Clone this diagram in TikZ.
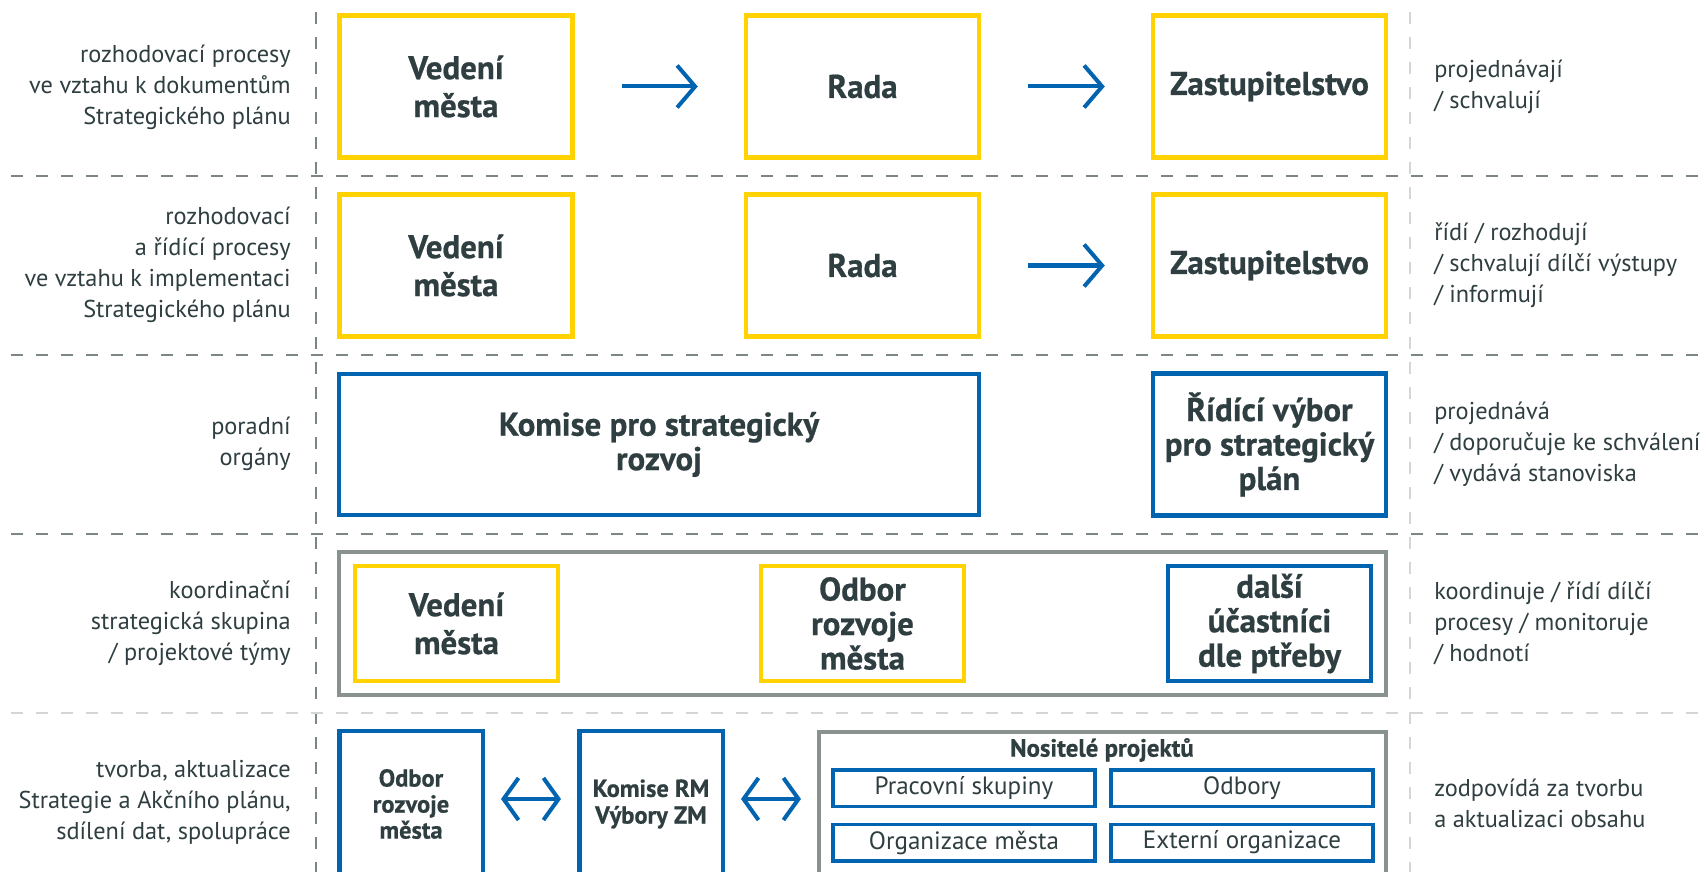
\documentclass[tikz,border=0pt]{standalone}
\usepackage{fontspec}
\setmainfont{PT Sans}[BoldFeatures={FakeBold=0.6}]
\usetikzlibrary{arrows.meta}

\definecolor{ylw}{RGB}{255,210,0}
\definecolor{blu}{RGB}{0,100,176}
\definecolor{gry}{RGB}{138,146,144}
\definecolor{txt}{RGB}{47,62,64}
\definecolor{dgr}{RGB}{125,134,134}
\definecolor{lgr}{RGB}{212,214,214}

\newlength\pxu
\setlength\pxu{0.025cm}

\begin{document}
\begin{tikzpicture}[x=1\pxu, y=-1\pxu,
	lbl/.style={text=txt, font=\fontsize{17.3}{22}\selectfont, inner sep=0pt},
	lleft/.style={lbl, align=right, anchor=east},
	lright/.style={lbl, align=left, anchor=west},
	ybox/.style={draw=ylw, line width=4.5\pxu, text=txt, align=center, inner sep=0pt,
		font=\bfseries\fontsize{23.4}{24.5}\selectfont},
	bluebox/.style={ybox, draw=blu},
	big/.style={minimum width=233\pxu, minimum height=142\pxu},
	mid/.style={minimum width=203\pxu, minimum height=115\pxu},
	graybox/.style={draw=gry, line width=4\pxu},
	smallbox/.style={draw=blu, line width=3.5\pxu, text=txt, inner sep=0pt,
		minimum width=262\pxu, minimum height=36.5\pxu, font=\fontsize{17.8}{20}\selectfont},
	sep/.style={line width=2\pxu, dash pattern=on 12\pxu off 13\pxu},
	arr/.style={draw=blu, line width=2.85pt, -{Straight Barb[length=12.8pt, width=29.9pt]},
		shorten <=33.4pt, shorten >=32.7pt},
	darr/.style={draw=blu, line width=2.85pt,
		{Straight Barb[length=10.7pt, width=29.9pt]}-{Straight Barb[length=10.7pt, width=29.9pt]},
		shorten <=11.4pt, shorten >=11.4pt}
]

	% frame
	\clip (0,0) rectangle (1706,872);
	\fill[white] (0,0) rectangle (1706,872);

	% separators
	\draw[sep, dgr] (316,12)--(316,872);
	\draw[sep, lgr] (1410,12)--(1410,872);
	\foreach \yy in {176,355,534} {
		\draw[sep, dgr] (11,\yy)--(1706,\yy);
	}
	\draw[sep, lgr] (11,713)--(1706,713);

	% row 1
	\node[ybox, big, font=\bfseries\fontsize{23.4}{27}\selectfont] (vm1) at (456,86.5) {Vedení\\města};
	\node[ybox, big] (rada1) at (862.5,86.5) {Rada};
	\node[ybox, big] (zast1) at (1269.5,86.5) {Zastupitelstvo};
	\draw[arr] (vm1)--(rada1);
	\draw[arr] (rada1)--(zast1);

	% row 2
	\node[ybox, big, font=\bfseries\fontsize{23.4}{27}\selectfont] (vm2) at (456,265.5) {Vedení\\města};
	\node[ybox, big] (rada2) at (862.5,265.5) {Rada};
	\node[ybox, big] (zast2) at (1269.5,265.5) {Zastupitelstvo};
	\draw[arr] (rada2)--(zast2);

	% row 3
	\node[bluebox, minimum width=640\pxu, minimum height=141\pxu] (komise) at (659,444.5) {Komise pro strategický\\rozvoj};
	\node[bluebox, big] (ridici) at (1269.5,444.5) {Řídící výbor\\pro strategický\\plán};

	% row 4
	\node[graybox, minimum width=1047\pxu, minimum height=143\pxu] (skupina) at (862.5,623.5) {};
	\node[ybox, mid, font=\bfseries\fontsize{23.4}{27}\selectfont] (vm4) at (456.5,623.5) {Vedení\\města};
	\node[ybox, mid] (odbor4) at (862.5,623.5) {Odbor\\rozvoje\\města};
	\node[bluebox, mid] (dalsi) at (1269.5,623.5) {další\\účastníci\\dle ptřeby};

	% row 5
	\node[bluebox, minimum width=143.5\pxu, minimum height=146\pxu,
		font=\bfseries\fontsize{17.4}{18.5}\selectfont] (odbor5) at (411,804) {Odbor\\rozvoje\\města};
	\node[bluebox, minimum width=143.5\pxu, minimum height=146\pxu,
		font=\bfseries\fontsize{17.4}{19}\selectfont] (komise5) at (651,804) {Komise RM\\Výbory ZM};
	\node[graybox, minimum width=567\pxu, minimum height=144\pxu] (nositele) at (1102.5,804) {};
	\node[text=txt, font=\bfseries\fontsize{17.7}{20}\selectfont, inner sep=0pt] (nostitle) at (1102,750) {Nositelé projektů};
	\node[smallbox] (pracovni) at (964,788) {Pracovní skupiny};
	\node[smallbox] (odbory) at (1242,788) {Odbory};
	\node[smallbox] (organizace) at (964,842.5) {Organizace města};
	\node[smallbox] (externi) at (1242,842.5) {Externí organizace};
	\draw[darr] ([yshift=5\pxu]odbor5.east)--([yshift=5\pxu]komise5.west);
	\draw[darr] ([yshift=5\pxu]komise5.east)--([yshift=5\pxu]nositele.west);

	% left labels
	\node[lleft] (l1) at (291,87) {rozhodovací procesy\\ve vztahu k dokumentům\\Strategického plánu};
	\node[lleft] (l2) at (291,265) {rozhodovací\\a řídící procesy\\ve vztahu k implementaci\\Strategického plánu};
	\node[lleft] (l3) at (291,444) {poradní\\orgány};
	\node[lleft] (l4) at (291,623) {koordinační\\strategická skupina\\/ projektové týmy};
	\node[lleft] (l5) at (291,802) {tvorba, aktualizace\\Strategie a Akčního plánu,\\sdílení dat, spolupráce};

	% right labels
	\node[lright] (r1) at (1434,87) {projednávají\\/ schvalují};
	\node[lright] (r2) at (1434,265) {řídí / rozhodují\\/ schvalují dílčí výstupy\\/ informují};
	\node[lright] (r3) at (1434,444) {projednává\\/ doporučuje ke schválení\\/ vydává stanoviska};
	\node[lright] (r4) at (1434,623) {koordinuje / řídí dílčí\\procesy / monitoruje\\/ hodnotí};
	\node[lright] (r5) at (1434,803) {zodpovídá za tvorbu\\a aktualizaci obsahu};

\end{tikzpicture}
\end{document}
